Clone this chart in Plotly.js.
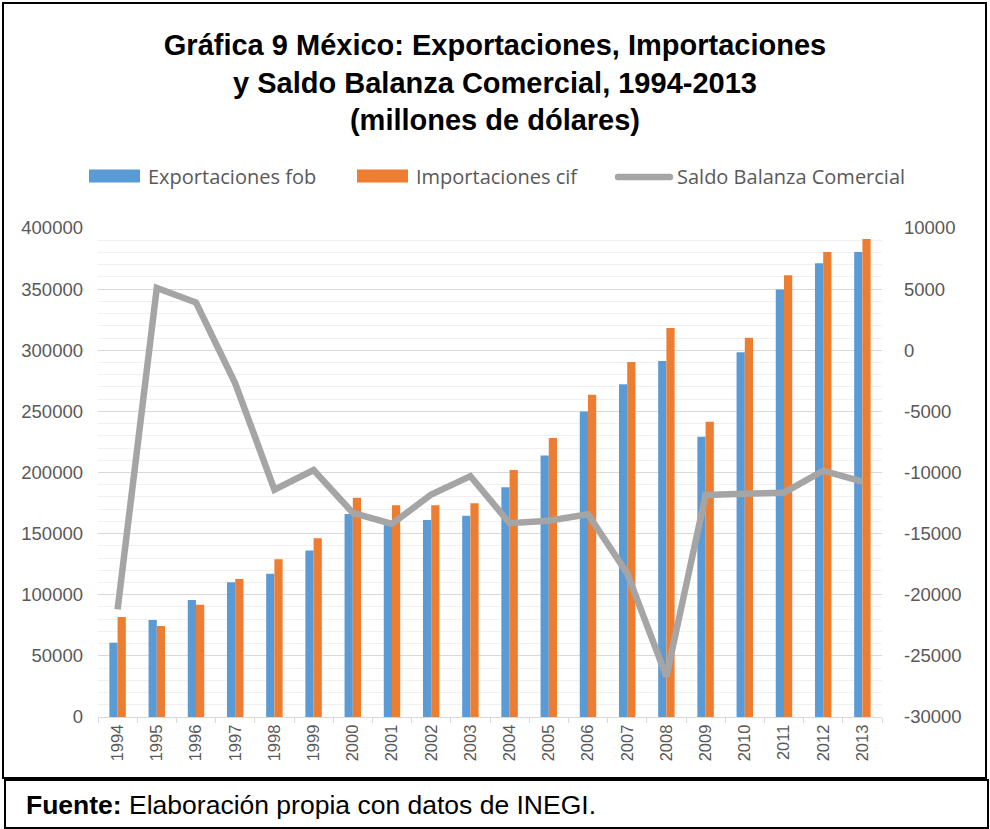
<!DOCTYPE html>
<html>
<head>
<meta charset="utf-8">
<script src="https://cdn.plot.ly/plotly-3.0.1.min.js"></script>
<style>
html,body{margin:0;padding:0;background:#fff;}
#chart{width:990px;height:829px;}
</style>
</head>
<body>
<div id="chart"></div>
<script>
// ---- data ----
const years = ['1994','1995','1996','1997','1998','1999','2000','2001','2002','2003',
               '2004','2005','2006','2007','2008','2009','2010','2011','2012','2013'];
const exportaciones = [60800, 79300, 95700, 110200, 117200, 136100, 166100, 158400, 161100, 164700,
                       187900, 214000, 250000, 272100, 291200, 229300, 298300, 349600, 371100, 380400];
const importaciones = [81800, 74400, 91900, 112900, 129000, 146200, 179400, 173200, 173200, 174800,
                       202000, 228200, 263600, 290400, 318200, 241600, 310300, 361300, 380400, 391000];
const saldo = [-21200, 5100, 3900, -2700, -11400, -9800, -13300, -14200, -11800, -10300,
               -14150, -13950, -13420, -18250, -26700, -11840, -11730, -11650, -9850, -10750];
const seriesNames = ['Exportaciones fob', 'Importaciones cif', 'Saldo Balanza Comercial'];
const leftTicks = [0, 50000, 100000, 150000, 200000, 250000, 300000, 350000, 400000];
const rightTicks = [-30000, -25000, -20000, -15000, -10000, -5000, 0, 5000, 10000];
const titleText = 'Gráfica 9 México: Exportaciones, Importaciones<br>y Saldo Balanza Comercial, 1994-2013<br>(millones de dólares)';
const footerText = '<b>Fuente:</b> Elaboración propia con datos de INEGI.';

// ---- styling / geometry ----
const colors = ['#5B9BD5', '#ED7D31', '#A5A5A5'];
const W = 990, H = 829, L = 98, R = 108, T = 228, B = 112;
const pw = W - L - R, ph = H - T - B;
const fx = px => (px - L) / pw;
const fy = py => (H - B - py) / ph;
const tickFont = {family: 'Liberation Sans, Arial, sans-serif', size: 18.5, color: '#595959'};
const legFont = {family: 'Open Sans, sans-serif', size: 20, color: '#595959'};

const traces = [
  {type: 'bar', x: years, y: exportaciones, name: seriesNames[0], marker: {color: colors[0]}, yaxis: 'y'},
  {type: 'bar', x: years, y: importaciones, name: seriesNames[1], marker: {color: colors[1]}, yaxis: 'y'},
  {type: 'scatter', mode: 'lines', x: years, y: saldo, name: seriesNames[2], yaxis: 'y2',
   line: {color: colors[2], width: 6.5, shape: 'linear'}}
];

const legY = 176;
const shapes = [
  // outer chart frame
  {type: 'rect', xref: 'paper', yref: 'paper', x0: fx(3), x1: fx(986), y0: fy(778), y1: fy(3),
   line: {color: '#000', width: 2}, fillcolor: 'rgba(0,0,0,0)', layer: 'above'},
  // footer frame
  {type: 'rect', xref: 'paper', yref: 'paper', x0: fx(5), x1: fx(988), y0: fy(828), y1: fy(780),
   line: {color: '#000', width: 2}, fillcolor: 'rgba(0,0,0,0)', layer: 'above'},
  // legend swatches
  {type: 'rect', xref: 'paper', yref: 'paper', x0: fx(89), x1: fx(140), y0: fy(legY + 6.5), y1: fy(legY - 6.5),
   line: {width: 0}, fillcolor: colors[0]},
  {type: 'rect', xref: 'paper', yref: 'paper', x0: fx(357), x1: fx(408), y0: fy(legY + 6.5), y1: fy(legY - 6.5),
   line: {width: 0}, fillcolor: colors[1]},
  {type: 'line', xref: 'paper', yref: 'paper', x0: fx(618), x1: fx(670), y0: fy(legY + 1), y1: fy(legY + 1),
   line: {color: colors[2], width: 6.5}},
  {type: 'circle', xref: 'paper', yref: 'paper', xsizemode: 'pixel', ysizemode: 'pixel',
   xanchor: fx(618), yanchor: fy(legY + 1), x0: -3.2, x1: 3.2, y0: -3.2, y1: 3.2,
   line: {width: 0}, fillcolor: colors[2]},
  {type: 'circle', xref: 'paper', yref: 'paper', xsizemode: 'pixel', ysizemode: 'pixel',
   xanchor: fx(670), yanchor: fy(legY + 1), x0: -3.2, x1: 3.2, y0: -3.2, y1: 3.2,
   line: {width: 0}, fillcolor: colors[2]}
];

const legX = [146, 414, 675];
const annotations = seriesNames.map((n, i) => ({
  text: n, xref: 'paper', yref: 'paper', x: fx(legX[i]), y: fy(legY), xanchor: 'left', yanchor: 'middle',
  showarrow: false, font: legFont
}));
annotations.push({
  text: footerText, xref: 'paper', yref: 'paper', x: fx(24), y: fy(805), xanchor: 'left', yanchor: 'middle',
  showarrow: false, font: {family: 'Liberation Sans, Arial, sans-serif', size: 26.5, color: '#000'}
});

const layout = {
  width: W, height: H,
  margin: {l: L, r: R, t: T, b: B, pad: 0},
  paper_bgcolor: '#fff', plot_bgcolor: '#fff',
  showlegend: false,
  barmode: 'group', bargap: 0.58, bargroupgap: 0,
  title: {text: titleText, xref: 'container', yref: 'container', x: 0.5, y: 1 - 55 / H, yanchor: 'top',
          font: {family: 'Liberation Sans, Arial, sans-serif', size: 29, color: '#000', weight: 'bold'}},
  xaxis: {type: 'category', tickangle: -90, tickfont: {family: 'Liberation Sans, Arial, sans-serif', size: 16.5, color: '#595959'},
          showline: true, linecolor: '#d9d9d9', linewidth: 1, ticks: 'outside', tickson: 'boundaries',
          ticklen: 5, tickcolor: '#d9d9d9', showgrid: false, fixedrange: true},
  yaxis: {range: [0, 400000], tickvals: leftTicks, ticktext: leftTicks.map(String), tickfont: tickFont,
          showgrid: true, gridcolor: '#d9d9d9', gridwidth: 1, zeroline: false, showline: false,
          ticks: '', ticklabelstandoff: 14,
          minor: {dtick: 10000, tick0: 0, showgrid: true, gridcolor: '#f0f0f0', gridwidth: 1}},
  yaxis2: {range: [-30000, 10000], overlaying: 'y', side: 'right', tickvals: rightTicks, ticktext: rightTicks.map(String),
           tickfont: tickFont, showgrid: false, zeroline: false, showline: false, ticks: '', ticklabelstandoff: 21},
  shapes: shapes,
  annotations: annotations,
  font: {family: 'Liberation Sans, Arial, sans-serif'}
};

Plotly.newPlot('chart', traces, layout, {displayModeBar: false, responsive: false});
</script>
</body>
</html>
